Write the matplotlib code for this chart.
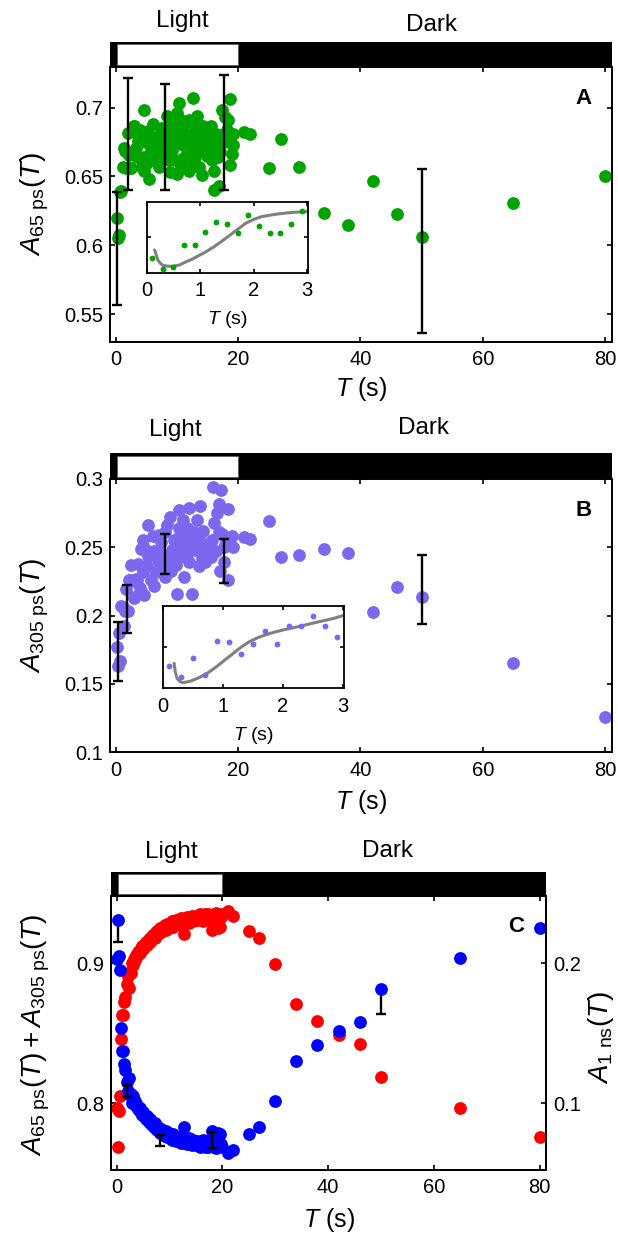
import matplotlib
matplotlib.use('Agg')
import matplotlib.pyplot as plt
from matplotlib.patches import Rectangle

plt.rcParams['font.family'] = ['Liberation Sans', 'DejaVu Sans']
plt.rcParams['mathtext.fontset'] = 'custom'
plt.rcParams['mathtext.rm'] = 'Liberation Sans'
plt.rcParams['mathtext.it'] = 'Liberation Sans:italic'
plt.rcParams['mathtext.bf'] = 'Liberation Sans:bold'

# ---------------- data ----------------
light_period = [0, 20]
x_ticks = [0, 20, 40, 60, 80]
x_ticklabels = ['0', '20', '40', '60', '80']
inset_xticks = [0, 1, 2, 3]
inset_xticklabels = ['0', '1', '2', '3']

# early samples (also shown in insets)
t_early = [0.1, 0.3, 0.5, 0.7, 0.9, 1.1, 1.3, 1.5, 1.7, 1.9, 2.1, 2.3, 2.5, 2.7, 2.9]
t_dark = [21, 22, 25, 27, 30, 34, 38, 42, 46, 50, 65, 80]

# Panel A : A_65ps
a_early = [0.620, 0.6056, 0.6075, 0.6385, 0.6394, 0.6568, 0.6709, 0.6685, 0.6563,
           0.6817, 0.6653, 0.6563, 0.6563, 0.6681, 0.6869]
a_t_mid = [3.0, 3.3, 3.5, 3.8, 4.3, 4.6, 4.6, 4.6, 4.9, 5.2, 5.4, 5.7, 6.0, 6.2, 6.5,
           6.8, 7.1, 7.1, 7.3, 7.9, 8.1, 8.4, 8.9, 8.9, 9.2, 9.2, 9.6, 9.9, 10.0, 10.0,
           10.3, 10.6, 10.6, 10.8, 11.1, 11.4, 11.6, 11.9, 11.9, 12.2, 12.4, 12.6, 12.7,
           13.0, 13.0, 13.3, 13.6, 13.8, 14.1, 14.1, 14.3, 14.6, 14.9, 15.1, 15.4, 15.4,
           15.7, 16.0, 16.0, 16.0, 16.2, 16.7, 16.8, 17.0, 17.3, 17.3, 17.9, 18.1, 18.7,
           18.7, 18.7, 19.2, 19.2,
           3.6, 4.0, 5.0, 5.5, 6.3, 7.5, 8.6, 9.4, 10.4, 11.0, 12.0, 12.9, 13.4, 14.0,
           14.8, 15.6, 16.4, 17.6, 18.4, 19.0]
a_mid = [0.687, 0.671, 0.664, 0.679, 0.657, 0.6985, 0.664, 0.654, 0.675, 0.683, 0.648,
         0.669, 0.688, 0.662, 0.679, 0.661, 0.670, 0.657, 0.685, 0.667, 0.681, 0.694,
         0.675, 0.653, 0.688, 0.669, 0.662, 0.696, 0.675, 0.652, 0.703, 0.691, 0.657,
         0.663, 0.688, 0.679, 0.667, 0.680, 0.654, 0.673, 0.661, 0.707, 0.682, 0.687,
         0.671, 0.694, 0.657, 0.675, 0.669, 0.651, 0.687, 0.677, 0.665, 0.685, 0.679,
         0.670, 0.662, 0.680, 0.654, 0.640, 0.675, 0.664, 0.643, 0.668, 0.680, 0.6985,
         0.693, 0.684, 0.706, 0.676, 0.658, 0.681, 0.673,
         0.676, 0.684, 0.660, 0.677, 0.672, 0.676, 0.662, 0.680, 0.684, 0.673, 0.691,
         0.664, 0.680, 0.684, 0.673, 0.687, 0.681, 0.675, 0.691, 0.666]
a_dark = [0.682, 0.681, 0.656, 0.677, 0.657, 0.6235, 0.6145, 0.647, 0.6225, 0.606, 0.631, 0.650]
a_err_t = [0.2, 1.9, 8.0, 17.7, 50]
a_err_c = [0.5976, 0.6808, 0.679, 0.6819, 0.596]
a_err = [0.041, 0.041, 0.0385, 0.0416, 0.0595]
a_curve_t = [0.15, 0.18, 0.21, 0.26, 0.30, 0.37, 0.45, 0.52, 0.62, 0.74, 0.85, 0.96, 1.10,
             1.26, 1.40, 1.56, 1.70, 1.85, 2.00, 2.15, 2.30, 2.44, 2.60, 2.74, 2.87, 3.00]
a_curve = [0.632, 0.625, 0.618, 0.613, 0.6105, 0.6094, 0.609, 0.6094, 0.611, 0.6155, 0.619,
           0.6235, 0.629, 0.6366, 0.644, 0.653, 0.661, 0.6695, 0.675, 0.679, 0.681, 0.6826,
           0.684, 0.685, 0.6855, 0.686]
a_yticks = [0.55, 0.6, 0.65, 0.7]
a_yticklabels = ['0.55', '0.6', '0.65', '0.7']

# Panel B : A_305ps
b_early = [0.1771, 0.1634, 0.1872, 0.1666, 0.2071, 0.2063, 0.1921, 0.2034, 0.2196,
           0.2034, 0.2261, 0.2261, 0.2374, 0.2253, 0.2128]
b_t_mid = [3.0, 3.3, 3.6, 3.9, 4.1, 4.35, 4.4, 4.6, 5.0, 5.2, 5.3, 5.7, 6.2, 6.2, 6.5, 6.8,
           7.0, 7.1, 7.3, 7.6, 8.0, 8.1, 8.4, 8.7, 8.9, 9.2, 9.5, 9.75, 10.0, 10.3, 10.3,
           10.3, 10.7, 11.0, 11.1, 11.4, 11.6, 11.9, 11.9, 12.0, 12.2, 12.4, 12.7, 13.0,
           13.2, 13.5, 13.5, 13.8, 14.1, 14.3, 14.6, 14.9, 15.2, 15.7, 15.9, 16.1, 16.3,
           16.5, 16.8, 16.8, 17.0, 17.2, 17.6, 17.6, 18.4, 18.4, 18.9,
           3.5, 4.8, 6.0, 7.8, 9.0, 10.5, 11.3, 12.6, 13.9, 14.5, 15.5, 17.4, 18.0, 19.1]
b_mid = [0.214, 0.227, 0.238, 0.220, 0.249, 0.232, 0.255, 0.215, 0.236, 0.244, 0.266,
         0.226, 0.247, 0.222, 0.232, 0.241, 0.235, 0.259, 0.254, 0.245, 0.228, 0.2615,
         0.266, 0.243, 0.272, 0.248, 0.255, 0.237, 0.216, 0.277, 0.264, 0.243, 0.252,
         0.270, 0.2285, 0.258, 0.264, 0.2785, 0.247, 0.239, 0.254, 0.216, 0.2615, 0.248,
         0.270, 0.257, 0.236, 0.280, 0.242, 0.262, 0.249, 0.244, 0.250, 0.255, 0.294,
         0.268, 0.247, 0.275, 0.282, 0.2615, 0.233, 0.292, 0.2395, 0.2505, 0.278, 0.226,
         0.258,
         0.226, 0.249, 0.258, 0.238, 0.233, 0.259, 0.245, 0.250, 0.253, 0.239, 0.243,
         0.260, 0.255, 0.250]
b_dark = [0.2578, 0.2559, 0.2695, 0.2431, 0.2444, 0.2488, 0.2456, 0.2029, 0.2207, 0.2134,
          0.1651, 0.1256]
b_err_t = [0.3, 1.8, 8.0, 17.6, 50]
b_err_c = [0.174, 0.2048, 0.245, 0.2398, 0.2191]
b_err = [0.0216, 0.0177, 0.0148, 0.016, 0.0252]
b_curve_t = [0.18, 0.20, 0.23, 0.28, 0.33, 0.45, 0.61, 0.75, 0.89, 1.03, 1.17, 1.30, 1.44,
             1.58, 1.72, 1.86, 2.00, 2.28, 2.56, 2.83, 3.00]
b_curve = [0.1804, 0.170, 0.162, 0.1581, 0.1569, 0.1585, 0.1634, 0.169, 0.1763, 0.1845,
           0.1925, 0.200, 0.2067, 0.2115, 0.2152, 0.2183, 0.2209, 0.2253, 0.2302, 0.2346,
           0.2383]
b_yticks = [0.1, 0.15, 0.2, 0.25, 0.3]
b_yticklabels = ['0.1', '0.15', '0.2', '0.25', '0.3']

# Panel C : A_65ps + A_305ps (red, left) and A_1ns (blue, right)
c_t_mid = [3.1, 3.3, 3.5, 3.7, 3.9, 4.1, 4.3, 4.5, 4.7, 4.9, 5.1, 5.3, 5.5, 5.7, 5.9, 6.1,
           6.3, 6.5, 6.7, 6.9, 7.1, 7.3, 7.5, 7.7, 7.9, 8.1, 8.3, 8.5, 8.7, 8.9, 9.1, 9.3,
           9.5, 9.7, 9.9, 10.1, 10.3, 10.5, 10.7, 10.9, 11.1, 11.3, 11.5, 11.7, 11.9, 12.1,
           12.3, 12.5, 12.7, 12.9, 13.1, 13.3, 13.5, 13.7, 13.9, 14.1, 14.3, 14.5, 14.7,
           14.9, 15.1, 15.3, 15.5, 15.7, 15.9, 16.1, 16.3, 16.5, 16.7, 16.9, 17.1, 17.3,
           17.5, 17.7, 17.9, 18.1, 18.3, 18.5, 18.7, 18.9, 19.1, 19.3, 19.5, 19.7, 19.9]
red_early = [0.797, 0.769, 0.7945, 0.805, 0.846, 0.863, 0.863, 0.872, 0.876, 0.885, 0.891,
             0.882, 0.894, 0.893, 0.900]
red_mid = [0.899, 0.903, 0.902, 0.906, 0.905, 0.908, 0.909, 0.907, 0.911, 0.912,
           0.910, 0.914, 0.915, 0.913, 0.916, 0.917, 0.915, 0.919, 0.918, 0.920,
           0.921, 0.918, 0.922, 0.923, 0.921, 0.924, 0.925, 0.922, 0.926, 0.925,
           0.927, 0.924, 0.928, 0.927, 0.925, 0.929, 0.928, 0.930, 0.926, 0.930,
           0.929, 0.931, 0.928, 0.931, 0.930, 0.932, 0.927, 0.931, 0.921, 0.932,
           0.930, 0.933, 0.931, 0.929, 0.933, 0.932, 0.934, 0.930, 0.933, 0.932,
           0.934, 0.931, 0.933, 0.935, 0.932, 0.934, 0.930, 0.933, 0.935, 0.933,
           0.932, 0.935, 0.931, 0.934, 0.930, 0.924, 0.933, 0.935, 0.931, 0.936,
           0.925, 0.934, 0.926, 0.933, 0.935]
red_dark = [0.937, 0.934, 0.923, 0.918, 0.8995, 0.871, 0.859, 0.849, 0.8424, 0.819, 0.7964, 0.776]
blue_early = [0.203, 0.231, 0.2055, 0.195, 0.154, 0.137, 0.137, 0.128, 0.124, 0.115, 0.109,
              0.118, 0.106, 0.107, 0.100]
blue_mid = [0.105, 0.101, 0.102, 0.098, 0.099, 0.096, 0.095, 0.097, 0.093, 0.092,
            0.094, 0.090, 0.089, 0.091, 0.088, 0.087, 0.089, 0.085, 0.086, 0.084,
            0.083, 0.086, 0.082, 0.081, 0.083, 0.080, 0.079, 0.082, 0.078, 0.079,
            0.077, 0.080, 0.076, 0.077, 0.079, 0.075, 0.076, 0.074, 0.078, 0.074,
            0.075, 0.073, 0.076, 0.073, 0.074, 0.072, 0.077, 0.073, 0.083, 0.072,
            0.074, 0.071, 0.073, 0.075, 0.071, 0.072, 0.070, 0.074, 0.071, 0.072,
            0.070, 0.073, 0.071, 0.069, 0.072, 0.070, 0.074, 0.071, 0.069, 0.071,
            0.072, 0.069, 0.073, 0.070, 0.074, 0.080, 0.071, 0.069, 0.073, 0.068,
            0.079, 0.070, 0.078, 0.071, 0.069]
blue_dark = [0.0643, 0.0666, 0.0779, 0.0833, 0.1016, 0.1302, 0.1416, 0.1519, 0.1583, 0.1816,
             0.204, 0.225]
c_err_lo_t = [0.3, 50]          # one-sided bars, top end hidden under markers
c_err_lo_y = [0.231, 0.1816]
c_err_lo = [0.0155, 0.018]
c_err_t = [1.95, 8.2, 18.05]
c_err_c = [0.1089, 0.0735, 0.0738]
c_err = [0.0042, 0.004, 0.006]
c_yticks = [0.8, 0.9]
c_yticklabels = ['0.8', '0.9']
c_ryticks = [0.1, 0.2]
c_ryticklabels = ['0.1', '0.2']

# ---------------- figure ----------------
W, H = 618, 1239
fig = plt.figure(figsize=(W / 100, H / 100), dpi=100)

GREEN = '#00a300'
PURPLE = '#7b68ee'
RED = '#ff0000'
BLUE = '#0000ff'
MS = 9.2
TICK_FS = 14.5


def px_axes(x0, y0, x1, y1):
    return fig.add_axes([x0 / W, 1 - y1 / H, (x1 - x0) / W, (y1 - y0) / H])


def ftext(x, y, s, **kw):
    fig.text(x / W, 1 - y / H, s, **kw)


def style(ax, lw=1.4):
    ax.tick_params(axis='both', direction='in', length=3.5, width=1.2,
                   labelsize=TICK_FS, colors='black')
    ax.tick_params(axis='x', pad=6)
    ax.tick_params(axis='y', pad=5)
    for s in ax.spines.values():
        s.set_linewidth(lw)


def add_bar(x0, x1, y0, y1, xlim):
    bx = px_axes(x0, y0, x1, y1)
    bx.set_xlim(xlim)
    bx.set_ylim(0, 1)
    bx.axis('off')
    bx.add_patch(Rectangle((xlim[0], 0), xlim[1] - xlim[0], 1, facecolor='black',
                           edgecolor='none'))
    bx.add_patch(Rectangle((light_period[0] + 0.2, 0.07), light_period[1] - light_period[0] - 0.2,
                           0.83, facecolor='white', edgecolor='#555555', lw=0.5))


def main_panel(box, xlim, ylim, yticks, yticklabels):
    ax = px_axes(*box)
    ax.set_xlim(xlim)
    ax.set_ylim(ylim)
    ax.set_xticks(x_ticks)
    ax.set_xticklabels(x_ticklabels)
    ax.set_yticks(yticks)
    ax.set_yticklabels(yticklabels)
    style(ax)
    ax.tick_params(top=True, right=True)
    return ax


def inset(box, ylim, ytick, t, v, ct, cv, color):
    ax = px_axes(*box)
    ax.set_xlim(0, 3.02)
    ax.set_ylim(ylim)
    ax.set_xticks(inset_xticks)
    ax.set_xticklabels(inset_xticklabels)
    ax.set_yticks([ytick])
    ax.set_yticklabels([])
    style(ax, lw=1.3)
    ax.tick_params(top=True, right=True, length=3)
    ax.plot(ct, cv, color='#808080', lw=2.2, zorder=2, solid_capstyle='round')
    ax.plot(t, v, 'o', color=color, ms=4.2, mew=0, zorder=3)
    return ax


XL_AB = (-0.98, 81.15)
XL_C = (-1.04, 81.2)
xlab = r'$\mathit{T}$ (s)'

# ---- Panel A ----
axA = main_panel((110, 66.7, 612, 341.7), XL_AB, (0.53, 0.7297), a_yticks, a_yticklabels)
axA.plot(t_early + a_t_mid + t_dark, a_early + a_mid + a_dark, 'o', color=GREEN, ms=MS,
         mew=0, zorder=2)
axA.errorbar(a_err_t, a_err_c, yerr=a_err, fmt='none', ecolor='black', elinewidth=1.7,
             capsize=3.5, capthick=1.7, zorder=3)
add_bar(110, 612, 41.7, 66.7, XL_AB)
inset((146.6, 201.7, 308.2, 272.7), (0.60, 0.70), 0.65, t_early, a_early,
      a_curve_t, a_curve, GREEN)
ftext(35, 204, r'$\mathit{A}_{\mathrm{65\ ps}}(\mathit{T})$', rotation=90, ha='center',
      va='center', fontsize=20)
ftext(361, 389, xlab, ha='center', va='center', fontsize=18)
ftext(227.4, 320, xlab, ha='center', va='center', fontsize=14)
ftext(182, 26.7, 'Light', ha='center', va='baseline', fontsize=17.5)
ftext(431, 30.7, 'Dark', ha='center', va='baseline', fontsize=17.5)
ftext(584, 98.3, 'A', ha='center', va='center', fontsize=16, fontweight='bold')

# ---- Panel B ----
axB = main_panel((110, 479, 612, 752.3), XL_AB, (0.1, 0.3), b_yticks, b_yticklabels)
axB.plot(t_early + b_t_mid + t_dark, b_early + b_mid + b_dark, 'o', color=PURPLE, ms=MS,
         mew=0, zorder=2)
axB.errorbar(b_err_t, b_err_c, yerr=b_err, fmt='none', ecolor='black', elinewidth=1.7,
             capsize=3.5, capthick=1.7, zorder=3)
add_bar(110, 612, 453, 479, XL_AB)
inset((163.3, 606, 344, 688.3), (0.15, 0.25), 0.2, t_early, b_early,
      b_curve_t, b_curve, PURPLE)
ftext(35, 615.6, r'$\mathit{A}_{\mathrm{305\ ps}}(\mathit{T})$', rotation=90, ha='center',
      va='center', fontsize=20)
ftext(361, 801.7, xlab, ha='center', va='center', fontsize=18)
ftext(253.7, 735, xlab, ha='center', va='center', fontsize=14)
ftext(175, 436, 'Light', ha='center', va='baseline', fontsize=17.5)
ftext(424, 434.3, 'Dark', ha='center', va='baseline', fontsize=17.5)
ftext(584, 510, 'B', ha='center', va='center', fontsize=16, fontweight='bold')

# ---- Panel C ----
axC = main_panel((111, 896, 546, 1170), XL_C, (0.7524, 0.948), c_yticks, c_yticklabels)
axC.tick_params(right=False)
axC.plot(t_early + c_t_mid + t_dark, red_early + red_mid + red_dark, 'o', color=RED, ms=MS,
         mew=0, zorder=2)
axR = axC.twinx()
axR.set_ylim(0.0524, 0.248)
axR.set_yticks(c_ryticks)
axR.set_yticklabels(c_ryticklabels)
style(axR)
axR.errorbar(c_err_lo_t, c_err_lo_y, yerr=[c_err_lo, [0, 0]], fmt='none', ecolor='black',
             elinewidth=1.7, capsize=3.5, capthick=1.7, zorder=1)
axR.plot(t_early + c_t_mid + t_dark, blue_early + blue_mid + blue_dark, 'o', color=BLUE,
         ms=MS, mew=0, zorder=2)
axR.errorbar(c_err_t, c_err_c, yerr=c_err, fmt='none', ecolor='black', elinewidth=1.7,
             capsize=3.5, capthick=1.7, zorder=3)
add_bar(111, 546, 871.7, 896, XL_C)
ftext(36, 1035, r'$\mathit{A}_{\mathrm{65\ ps}}(\mathit{T})+\mathit{A}_{\mathrm{305\ ps}}(\mathit{T})$',
      rotation=90, ha='center', va='center', fontsize=20)
ftext(601, 1037, r'$\mathit{A}_{\mathrm{1\ ns}}(\mathit{T})$', rotation=90, ha='center',
      va='center', fontsize=20)
ftext(328.5, 1220, xlab, ha='center', va='center', fontsize=18)
ftext(171, 858.3, 'Light', ha='center', va='baseline', fontsize=17.5)
ftext(387, 856.7, 'Dark', ha='center', va='baseline', fontsize=17.5)
ftext(516, 926.7, 'C', ha='center', va='center', fontsize=16, fontweight='bold')

fig.savefig('out.png', dpi=100)
